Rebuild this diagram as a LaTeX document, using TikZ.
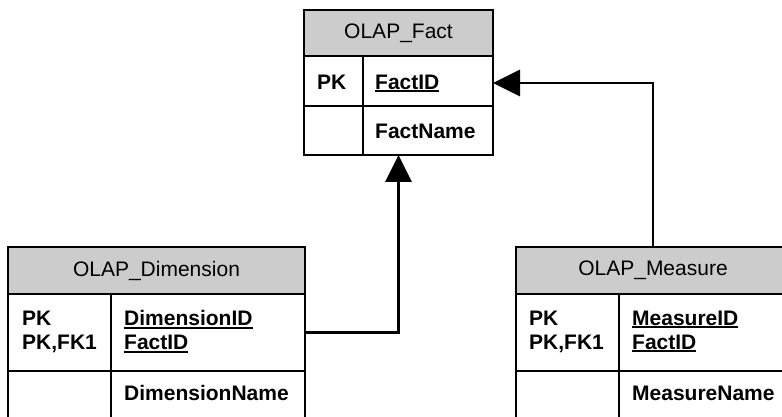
\documentclass[tikz,border=0pt]{standalone}
\usepackage{fontspec}
\setmainfont{Liberation Sans}
\usetikzlibrary{arrows.meta}
\definecolor{hdrgray}{RGB}{204,204,204}
\newcommand\myul[1]{\setbox0\hbox{#1}\rlap{\rule[-3pt]{\wd0}{1.9pt}}\box0}
\begin{document}
\begin{tikzpicture}[x=1pt,y=-1pt,
  frame/.style={draw=black, line width=1.9pt, inner sep=0pt, outer sep=0pt, anchor=north west},
  hdrbox/.style={frame, fill=hdrgray, font=\fontsize{21}{24}\selectfont},
  celltext/.style={anchor=north west, inner sep=0pt, align=left, font=\bfseries\fontsize{21}{24}\selectfont},
  conn/.style={line width=2.9pt, -{Triangle[width=26pt,length=27pt]}},
]
\useasboundingbox (0,0) rectangle (782,417);
\clip (0,0) rectangle (782,417);

% ---------- OLAP_Fact ----------
\node[frame, fill=white, minimum width=189pt, minimum height=145pt] (fact) at (304,10) {};
\node[hdrbox, minimum width=189pt, minimum height=46pt] (facthdr) at (304,10) {OLAP\_Fact};
\node[frame, minimum width=59pt, minimum height=50pt] (factk1) at (304,56) {};
\node[frame, minimum width=130pt, minimum height=50pt] (factf1) at (363,56) {};
\node[frame, minimum width=59pt, minimum height=49pt] (factk2) at (304,106) {};
\node[frame, minimum width=130pt, minimum height=49pt] (factf2) at (363,106) {};
\node[celltext] (factk1t) at (317,74.5) {PK};
\node[celltext] (factf1t) at (375,74.5) {\myul{FactID}};
\node[celltext] (factf2t) at (375,123.5) {FactName};

% ---------- OLAP_Dimension ----------
\node[frame, fill=white, minimum width=297pt, minimum height=174pt] (dim) at (8,247) {};
\node[hdrbox, minimum width=297pt, minimum height=47pt] (dimhdr) at (8,247) {OLAP\_Dimension};
\node[frame, minimum width=103pt, minimum height=77pt] (dimk1) at (8,294) {};
\node[frame, minimum width=194pt, minimum height=77pt] (dimf1) at (111,294) {};
\node[frame, minimum width=103pt, minimum height=50pt] (dimk2) at (8,371) {};
\node[frame, minimum width=194pt, minimum height=50pt] (dimf2) at (111,371) {};
\node[celltext] (dimk1t) at (22,310.5) {PK\\PK,FK1};
\node[celltext] (dimf1t) at (124,310.5) {\myul{DimensionID}\\\myul{FactID}};
\node[celltext] (dimf2t) at (124,385.5) {DimensionName};

% ---------- OLAP_Measure ----------
\node[frame, fill=white, minimum width=274pt, minimum height=174pt] (meas) at (516,247) {};
\node[hdrbox, minimum width=274pt, minimum height=47pt] (meashdr) at (516,247) {OLAP\_Measure};
\node[frame, minimum width=103pt, minimum height=77pt] (meask1) at (516,294) {};
\node[frame, minimum width=171pt, minimum height=77pt] (measf1) at (619,294) {};
\node[frame, minimum width=103pt, minimum height=50pt] (meask2) at (516,371) {};
\node[frame, minimum width=171pt, minimum height=50pt] (measf2) at (619,371) {};
\node[celltext] (meask1t) at (529,310.5) {PK\\PK,FK1};
\node[celltext] (measf1t) at (632,310.5) {\myul{MeasureID}\\\myul{FactID}};
\node[celltext] (measf2t) at (632,385.5) {MeasureName};

% ---------- connectors ----------
\draw[conn] (dimf1.east) -| (fact.south);
\draw[conn] (meas.north) |- ([yshift=-2pt]factf1.east);
\end{tikzpicture}
\end{document}
